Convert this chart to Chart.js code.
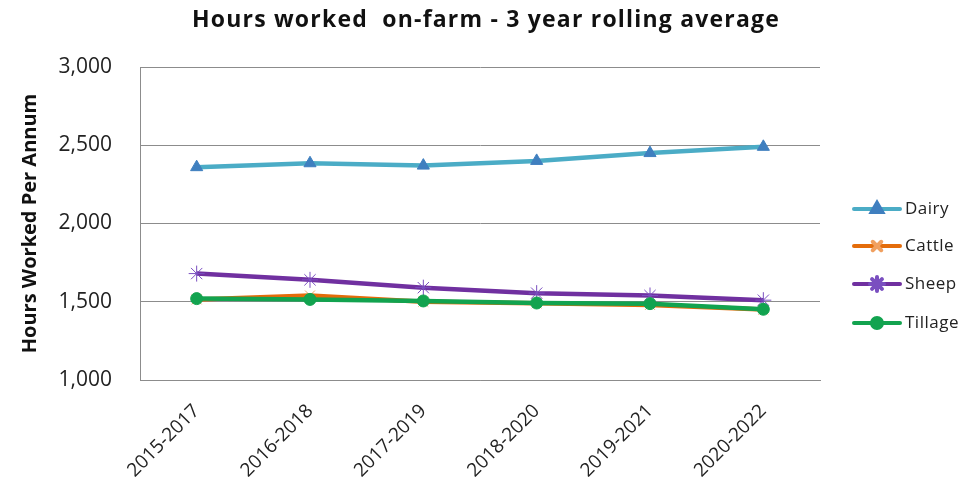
<!DOCTYPE html>
<html>
<head>
<meta charset="utf-8">
<script src="https://cdn.jsdelivr.net/npm/chart.js@4"></script>
<style>
  html, body { margin: 0; padding: 0; background: #fff; }
  #wrap { width: 979px; height: 479px; }
</style>
</head>
<body>
<div id="wrap"><canvas id="hoursChart"></canvas></div>
<script>
// Periods (3 year rolling windows)
const periods = ['2015-2017', '2016-2018', '2017-2019', '2018-2020', '2019-2021', '2020-2022'];

// Hours worked per annum
const dairy   = [2360, 2385, 2370, 2400, 2450, 2490];
const cattle  = [1515, 1540, 1500, 1490, 1480, 1450];
const sheep   = [1680, 1640, 1590, 1555, 1540, 1510];
const tillage = [1520, 1515, 1505, 1492, 1488, 1452];

const yTicks = [1000, 1500, 2000, 2500, 3000];

const chartTitle = 'Hours worked  on-farm - 3 year rolling average';
const FONT = '"Open Sans", Lato, sans-serif';

// Title centred over the whole picture (not only the plot) + Excel style legend
const extras = {
    id: 'extras',
    afterDraw(chart) {
        const ctx = chart.ctx;
        ctx.save();
        ctx.fillStyle = '#111';
        ctx.font = 'bold 23px ' + FONT;
        ctx.letterSpacing = '1.2px';
        ctx.textAlign = 'center';
        ctx.textBaseline = 'middle';
        ctx.fillText(chartTitle, 486, 20);
        ctx.restore();

        const rows = [209, 246, 284, 323];
        chart.data.datasets.forEach((ds, i) => {
            const y = rows[i];
            ctx.save();
            ctx.strokeStyle = ds.borderColor;
            ctx.lineWidth = 4;
            ctx.lineCap = 'round';
            ctx.beginPath();
            ctx.moveTo(854, y);
            ctx.lineTo(900, y);
            ctx.stroke();
            ctx.fillStyle = ds.pointBackgroundColor;
            ctx.strokeStyle = ds.pointBorderColor;
            Chart.helpers.drawPoint(ctx, {
                pointStyle: ds.pointStyle,
                radius: ds.pointRadius - 1,
                borderWidth: ds.pointBorderWidth,
                rotation: 0
            }, 877, y);
            ctx.fillStyle = '#222';
            ctx.font = '17px ' + FONT;
            ctx.letterSpacing = '0.5px';
            ctx.textBaseline = 'middle';
            ctx.fillText(ds.label, 905, y);
            ctx.restore();
        });
    }
};

function drawHoursChart() {
    const ctx = document.getElementById('hoursChart').getContext('2d');
    new Chart(ctx, {
        type: 'line',
        data: {
            labels: periods,
            datasets: [
                {
                    label: 'Dairy', data: dairy, order: 3,
                    borderColor: '#4bacc6', borderWidth: 4.5,
                    pointStyle: 'triangle', pointRadius: 7,
                    pointBackgroundColor: '#3f7fbf', pointBorderColor: '#3f7fbf', pointBorderWidth: 1
                },
                {
                    label: 'Cattle', data: cattle, order: 2,
                    borderColor: '#e46c0a', borderWidth: 4.5,
                    pointStyle: 'crossRot', pointRadius: 7,
                    pointBackgroundColor: '#f0a060', pointBorderColor: '#f0a060', pointBorderWidth: 1
                },
                {
                    label: 'Sheep', data: sheep, order: 1,
                    borderColor: '#7030a0', borderWidth: 4.5,
                    pointStyle: 'star', pointRadius: 8,
                    pointBackgroundColor: '#7a4fc0', pointBorderColor: '#7a4fc0', pointBorderWidth: 1
                },
                {
                    label: 'Tillage', data: tillage, order: 0,
                    borderColor: '#12a34f', borderWidth: 4.5,
                    pointStyle: 'circle', pointRadius: 6,
                    pointBackgroundColor: '#12a34f', pointBorderColor: '#12a34f', pointBorderWidth: 1
                }
            ]
        },
        options: {
            responsive: true,
            maintainAspectRatio: false,
            animation: false,
            layout: { padding: { left: 0, right: 159, top: 67, bottom: 0 } },
            plugins: {
                legend: { display: false },
                tooltip: { enabled: false },
                title: { display: false }
            },
            scales: {
                x: {
                    offset: true,
                    grid: { display: false, drawTicks: false },
                    border: { color: '#8c8c8c', width: 1 },
                    ticks: {
                        color: '#222',
                        font: { family: FONT, size: 19 },
                        maxRotation: 45, minRotation: 45,
                        padding: 20
                    },
                    afterFit(scale) { scale.height = 99; }
                },
                y: {
                    min: 1000, max: 3000,
                    afterBuildTicks(scale) { scale.ticks = yTicks.map(v => ({ value: v })); },
                    grid: { color: '#8c8c8c', lineWidth: 1, drawTicks: false },
                    border: { color: '#8c8c8c', width: 1 },
                    ticks: {
                        color: '#222',
                        font: { family: FONT, size: 21 },
                        padding: 28,
                        callback: v => v.toLocaleString('en-US')
                    },
                    title: {
                        display: true,
                        text: 'Hours Worked Per Annum',
                        color: '#111',
                        font: { family: FONT, size: 20, weight: 'bold' },
                        padding: { top: 18, bottom: 12 }
                    },
                    afterFit(scale) { scale.width = 140; }
                }
            }
        },
        plugins: [extras]
    });
}

window.onload = function() {
    drawHoursChart();
};
</script>
</body>
</html>
